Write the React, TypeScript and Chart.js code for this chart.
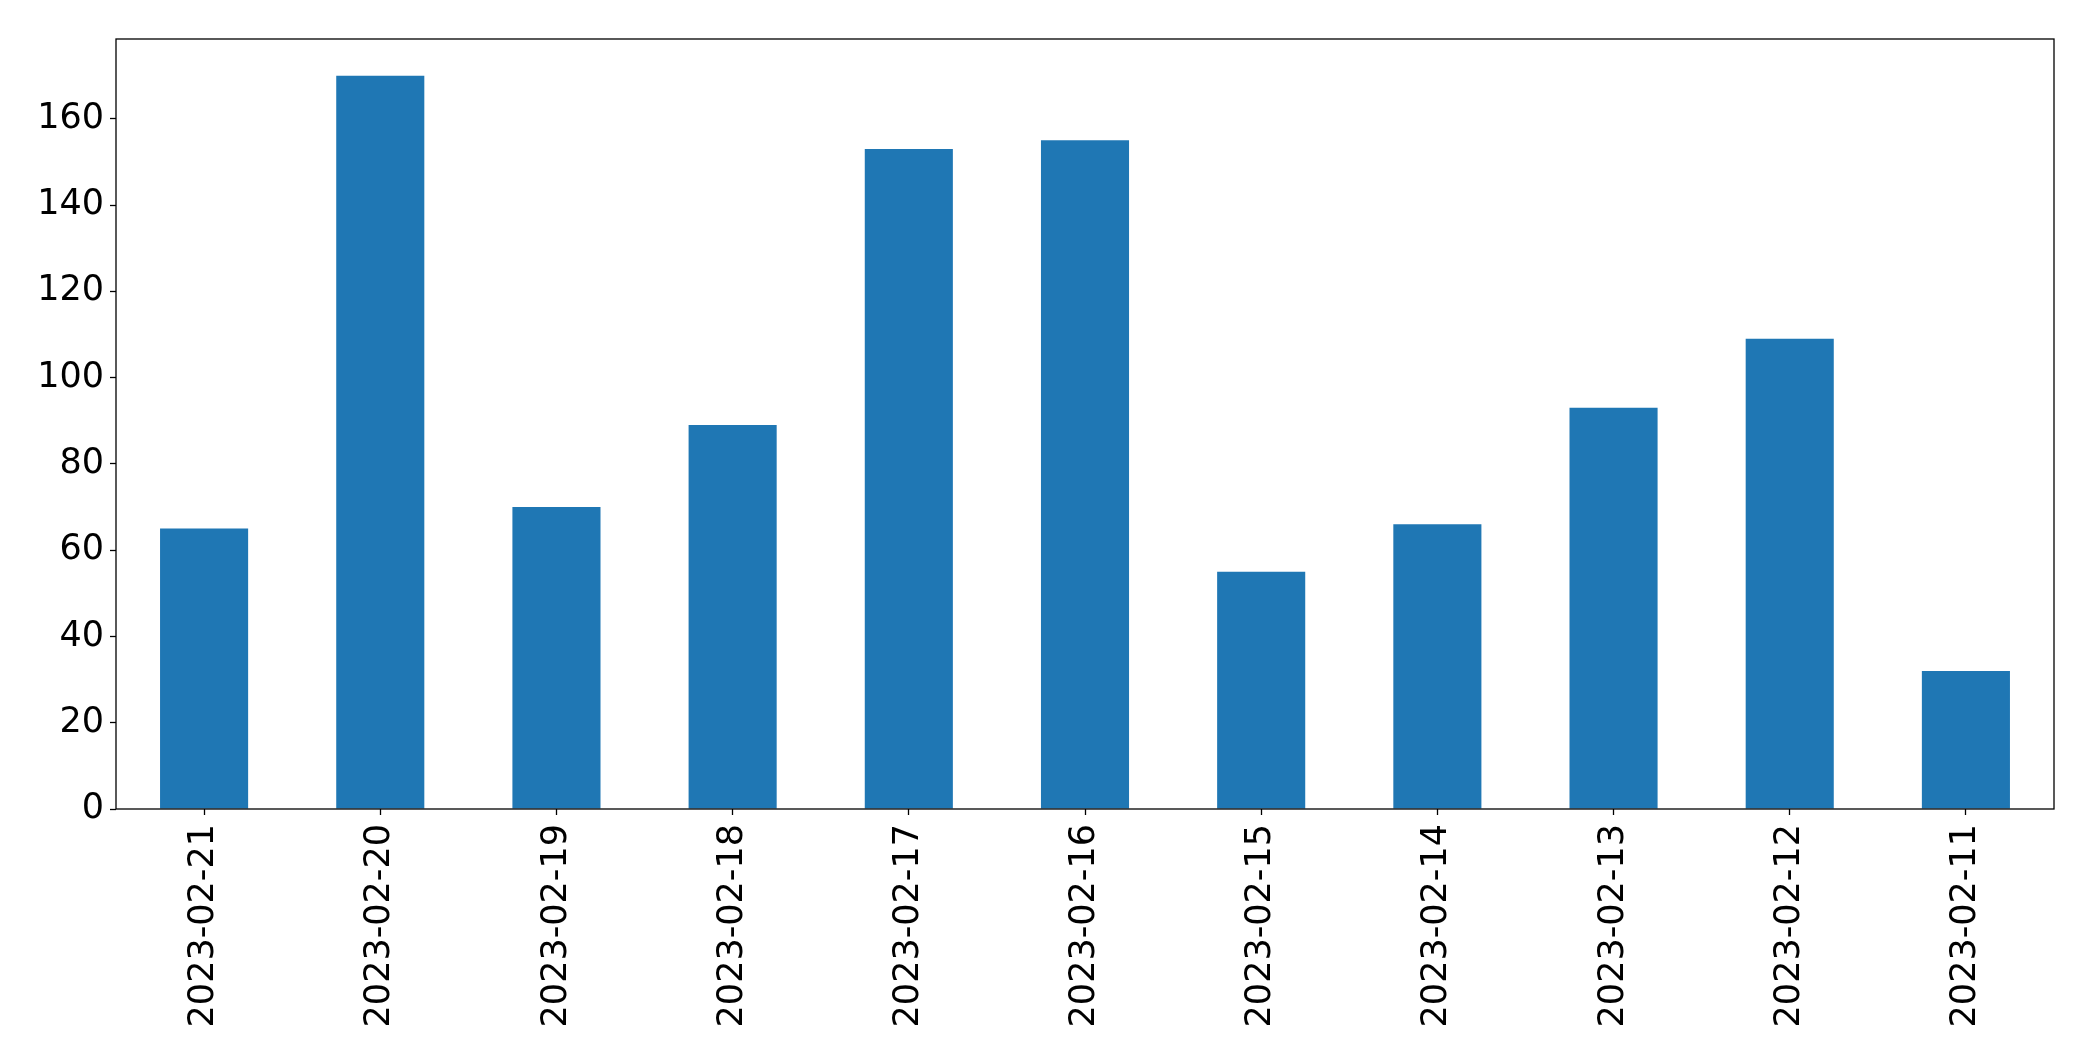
import React, { useEffect, useRef } from "react";
import { Chart, registerables } from "chart.js";

Chart.register(...registerables);

const categories = [
  "2023-02-21",
  "2023-02-20",
  "2023-02-19",
  "2023-02-18",
  "2023-02-17",
  "2023-02-16",
  "2023-02-15",
  "2023-02-14",
  "2023-02-13",
  "2023-02-12",
  "2023-02-11",
];
const values = [65, 170, 70, 89, 153, 155, 55, 66, 93, 109, 32];
const yTicks = [0, 20, 40, 60, 80, 100, 120, 140, 160];

const W = 2093;
const H = 1061;
const PLOT_LEFT = 116;
const PLOT_TOP = 39;
const PLOT_RIGHT = 2054;
const PLOT_BOTTOM = 809;
const FONT = { family: "'DejaVu Sans', sans-serif", size: 35 };

const framePlugin = {
  id: "frame",
  afterDraw(chart: any) {
    const { ctx, chartArea } = chart;
    ctx.save();
    ctx.strokeStyle = "#000";
    ctx.lineWidth = 1.3;
    ctx.strokeRect(
      chartArea.left,
      chartArea.top,
      chartArea.right - chartArea.left,
      chartArea.bottom - chartArea.top
    );
    ctx.restore();
  },
};

export default function App() {
  const ref = useRef<HTMLCanvasElement | null>(null);

  useEffect(() => {
    if (!ref.current) return;
    const chart = new Chart(ref.current, {
      type: "bar",
      data: {
        labels: categories,
        datasets: [
          {
            data: values,
            backgroundColor: "#1f77b4",
            borderWidth: 0,
            categoryPercentage: 1,
            barPercentage: 0.5,
          },
        ],
      },
      options: {
        animation: false,
        responsive: false,
        maintainAspectRatio: false,
        events: [],
        layout: {
          padding: { left: 0, top: PLOT_TOP, right: W - PLOT_RIGHT, bottom: 0 },
        },
        plugins: {
          legend: { display: false },
          tooltip: { enabled: false },
          title: { display: false },
        },
        scales: {
          x: {
            offset: true,
            grid: {
              display: true,
              drawOnChartArea: false,
              drawTicks: true,
              tickLength: 6,
              tickColor: "#000",
              tickWidth: 1.3,
              offset: false,
            },
            border: { display: false },
            ticks: {
              color: "#000",
              font: FONT,
              minRotation: 90,
              maxRotation: 90,
              padding: 9,
              autoSkip: false,
            },
            afterFit(scale: any) {
              scale.height = H - PLOT_BOTTOM;
            },
          },
          y: {
            min: 0,
            max: 178.5,
            grid: {
              display: true,
              drawOnChartArea: false,
              drawTicks: true,
              tickLength: 6,
              tickColor: "#000",
              tickWidth: 1.3,
            },
            border: { display: false },
            ticks: {
              color: "#000",
              font: FONT,
              padding: 6,
              stepSize: 20,
            },
            afterBuildTicks(scale: any) {
              scale.ticks = yTicks.map((v) => ({ value: v }));
            },
            afterFit(scale: any) {
              scale.width = PLOT_LEFT;
            },
          },
        },
      },
      plugins: [framePlugin],
    });
    return () => chart.destroy();
  }, []);

  return (
    <div style={{ position: "fixed", left: 0, top: 0, width: W, height: H, background: "#fff" }}>
      <canvas ref={ref} width={W} height={H} style={{ width: W, height: H, display: "block" }} />
    </div>
  );
}
